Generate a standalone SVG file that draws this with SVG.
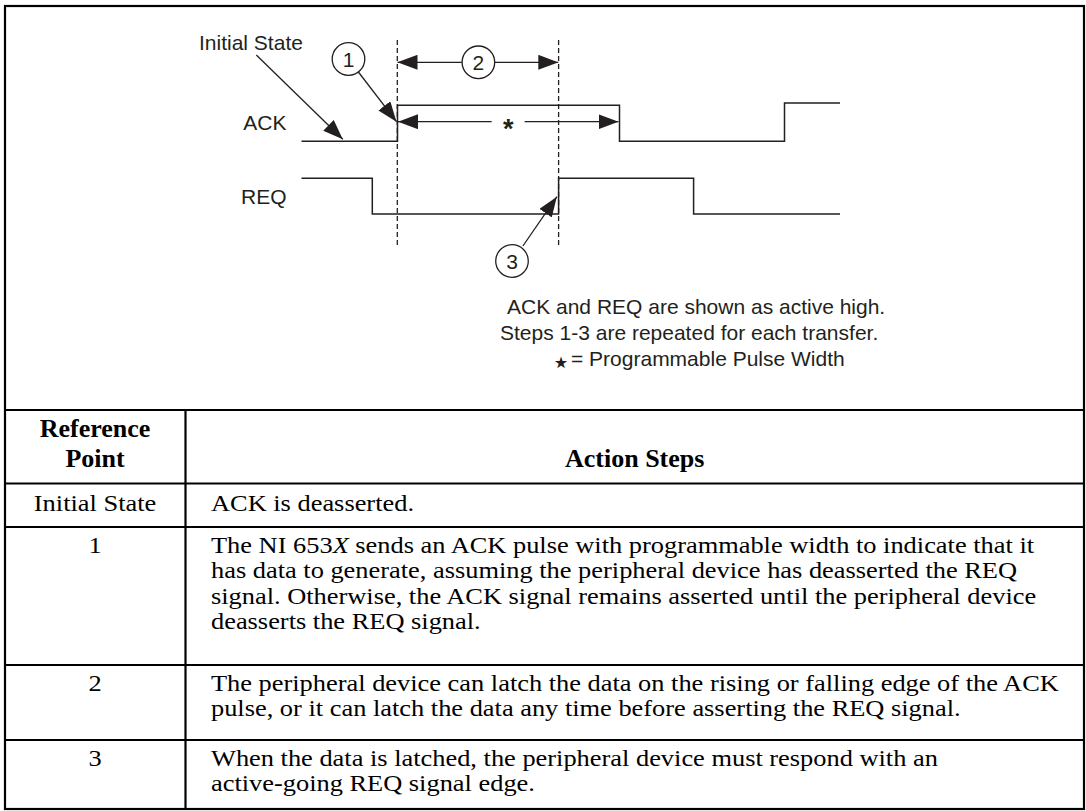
<svg xmlns="http://www.w3.org/2000/svg" width="1086" height="811" viewBox="0 0 1086 811">
<style>
.lbl{font-family:"Liberation Sans",Arial,sans-serif;font-size:21px;fill:#231f20}
.wave{fill:none;stroke:#231f20;stroke-width:1.5}
.dash{fill:none;stroke:#231f20;stroke-width:1.3;stroke-dasharray:5 3}
.lead{fill:none;stroke:#231f20;stroke-width:1.3}
.circ{fill:#fff;stroke:#231f20;stroke-width:1.3}
.num{font-family:"Liberation Sans",Arial,sans-serif;font-size:21px;fill:#231f20;text-anchor:middle}
.grid{fill:none;stroke:#000;stroke-width:2.2}
.cell{font-family:"Liberation Serif","Times New Roman",serif;font-size:24px;fill:#000}
.hdr{font-family:"Liberation Serif","Times New Roman",serif;font-size:26px;font-weight:bold;fill:#000}
.c{text-anchor:middle}
</style>
<defs>
<marker id="ah" markerUnits="userSpaceOnUse" markerWidth="20" markerHeight="15" refX="20" refY="7.5" orient="auto">
<path d="M0,0 L20,7.5 L0,15 z" fill="#231f20"/>
</marker>
</defs>
<rect x="0" y="0" width="1086" height="811" fill="#fff"/>

<g id="frame">
<rect class="grid" x="5" y="6" width="1079" height="803"/>
</g>

<g id="waveforms">
<path id="ack-wave" class="wave" d="M301.5,141.3 H397.5 V105.3 H619.5 V141.3 H784.5 V103 H840"/>
<path id="req-wave" class="wave" d="M301.5,178.3 H372.3 V214 H558.6 V178.3 H693.6 V214 H840"/>
<line class="dash" x1="397.3" y1="40" x2="397.3" y2="247"/>
<line class="dash" x1="558.6" y1="40" x2="558.6" y2="247"/>
</g>

<g id="labels">
<text class="lbl" x="199" y="50">Initial State</text>
<text class="lbl" x="286.5" y="130" text-anchor="end">ACK</text>
<text class="lbl" x="286.5" y="204" text-anchor="end">REQ</text>
</g>

<g id="connectors">
<line class="lead" x1="256.3" y1="55" x2="342.8" y2="139.3" marker-end="url(#ah)"/>
<line class="lead" x1="358.4" y1="72" x2="396.5" y2="121.7" marker-end="url(#ah)"/>
<line class="lead" x1="522.9" y1="246" x2="556.9" y2="196.7" marker-end="url(#ah)"/>
<line class="lead" x1="462" y1="62.3" x2="397.5" y2="62.3" marker-end="url(#ah)"/>
<line class="lead" x1="494.5" y1="62.3" x2="558.3" y2="62.3" marker-end="url(#ah)"/>
<line class="lead" x1="491.7" y1="121.7" x2="398" y2="121.7" marker-end="url(#ah)"/>
<line class="lead" x1="524.6" y1="121.7" x2="618.5" y2="121.7" marker-end="url(#ah)"/>
</g>

<g id="ref1">
<circle class="circ" cx="348.5" cy="59" r="16.3"/>
<text class="num" x="348.5" y="66.5">1</text>
</g>
<g id="ref2">
<circle class="circ" cx="478.4" cy="62.3" r="16.3"/>
<text class="num" x="478.4" y="69.8">2</text>
</g>
<g id="ref3">
<circle class="circ" cx="512" cy="261" r="16.3"/>
<text class="num" x="512" y="268.5">3</text>
</g>
<g id="pulse-star">
<text x="508.3" y="138" text-anchor="middle" style="font-family:'Liberation Sans',Arial,sans-serif;font-size:27px;font-weight:bold;fill:#231f20">*</text>
</g>

<g id="notes">
<text class="lbl" x="507" y="313.5">ACK and REQ are shown as active high.</text>
<text class="lbl" x="500" y="339.5">Steps 1-3 are repeated for each transfer.</text>
<text x="561" y="373" text-anchor="middle" style="font-family:'DejaVu Sans',sans-serif;font-size:32px;fill:#231f20">⋆</text>
<text class="lbl" x="571" y="366">= Programmable Pulse Width</text>
</g>

<g id="table">
<line class="grid" x1="5" y1="410" x2="1084" y2="410"/>
<line class="grid" x1="5" y1="483.5" x2="1084" y2="483.5"/>
<line class="grid" x1="5" y1="527" x2="1084" y2="527"/>
<line class="grid" x1="5" y1="665" x2="1084" y2="665"/>
<line class="grid" x1="5" y1="740" x2="1084" y2="740"/>
<line class="grid" x1="185.5" y1="410" x2="185.5" y2="809"/>

<text class="hdr c" x="95" y="437">Reference</text>
<text class="hdr c" x="95" y="467">Point</text>
<text class="hdr" x="565" y="467">Action Steps</text>

<g transform="scale(1.1,1)">
<text class="cell c" x="86.4" y="511">Initial State</text>
<text class="cell" x="191.8" y="511">ACK is deasserted.</text>

<text class="cell c" x="86.4" y="553">1</text>
<text class="cell" x="191.8" y="553">The NI 653<tspan font-style="italic">X</tspan> sends an ACK pulse with programmable width to indicate that it</text>
<text class="cell" x="191.8" y="578.5">has data to generate, assuming the peripheral device has deasserted the REQ</text>
<text class="cell" x="191.8" y="604">signal. Otherwise, the ACK signal remains asserted until the peripheral device</text>
<text class="cell" x="191.8" y="629.5">deasserts the REQ signal.</text>

<text class="cell c" x="86.4" y="691">2</text>
<text class="cell" x="191.8" y="691">The peripheral device can latch the data on the rising or falling edge of the ACK</text>
<text class="cell" x="191.8" y="716.5">pulse, or it can latch the data any time before asserting the REQ signal.</text>

<text class="cell c" x="86.4" y="766">3</text>
<text class="cell" x="191.8" y="766">When the data is latched, the peripheral device must respond with an</text>
<text class="cell" x="191.8" y="791">active-going REQ signal edge.</text>
</g>
</g>
</svg>
